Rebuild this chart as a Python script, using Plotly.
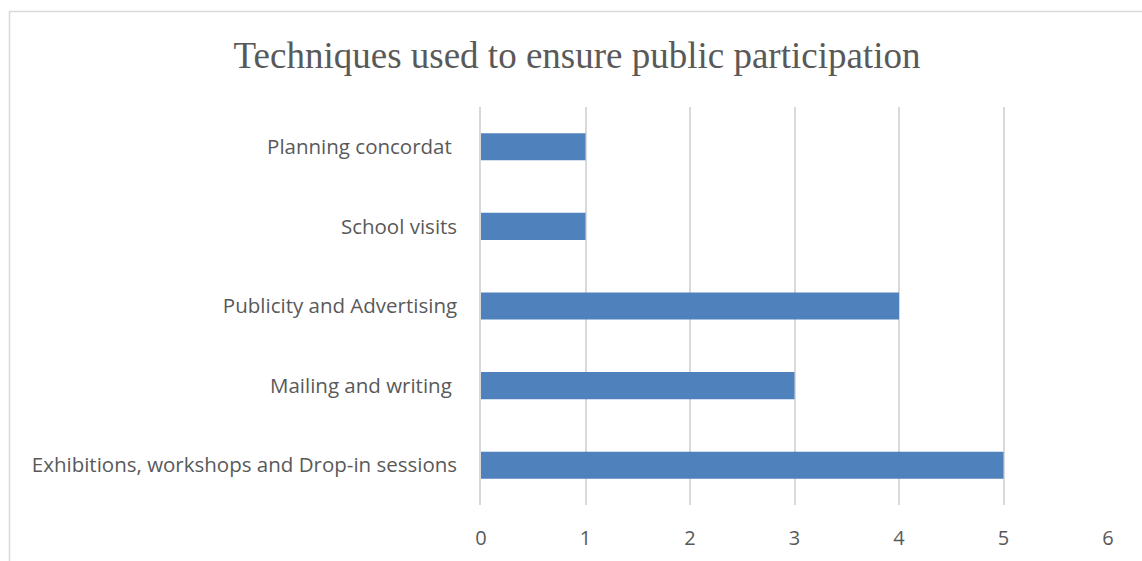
import plotly.graph_objects as go

# Survey responses: number of projects using each participation technique
techniques = [
    "Exhibitions, workshops and Drop-in sessions",
    "Mailing and writing\u00a0",
    "Publicity and Advertising",
    "School visits",
    "Planning concordat\u00a0",
]
counts = [5, 3, 4, 1, 1]
x_ticks = [0, 1, 2, 3, 4, 5, 6]

W, H = 1142, 561
L, R, T, B = 481, 34, 107, 56
pw, ph = W - L - R, H - T - B

def px_to_paper_x(px):
    return (px - L) / pw

def px_to_paper_y(py):
    return 1 - (py - T) / ph

fig = go.Figure(
    go.Bar(
        y=techniques,
        x=counts,
        orientation="h",
        width=0.34,
        marker=dict(color="#4f81bd", line=dict(width=0)),
    )
)

fig.update_layout(
    width=W,
    height=H,
    margin=dict(l=L, r=R, t=T, b=B),
    paper_bgcolor="white",
    plot_bgcolor="white",
    showlegend=False,
    title=dict(
        text="Techniques used to ensure public participation",
        font=dict(family="Liberation Serif", size=37, color="#595959"),
        x=577 / W,
        xref="container",
        xanchor="center",
        y=1 - 55 / H,
        yref="container",
        yanchor="middle",
    ),
    font=dict(family="Open Sans", size=20.5, color="#595959"),
    shapes=[
        dict(
            type="rect",
            xref="paper",
            yref="paper",
            x0=px_to_paper_x(9.5),
            x1=px_to_paper_x(1160),
            y0=px_to_paper_y(580),
            y1=px_to_paper_y(11.5),
            line=dict(color="#d9d9d9", width=1.5),
            fillcolor="rgba(0,0,0,0)",
            layer="below",
        )
    ],
)

fig.update_xaxes(
    range=[0, 6],
    tickvals=x_ticks,
    showgrid=True,
    gridcolor="#d9d9d9",
    gridwidth=1.5,
    zeroline=False,
    showline=False,
    ticks="",
    automargin=False,
    ticklabelstandoff=19,
    tickfont=dict(family="Open Sans", size=20, color="#595959"),
)
fig.update_yaxes(
    categoryorder="array",
    categoryarray=techniques,
    showgrid=False,
    zeroline=False,
    showline=True,
    linecolor="#d9d9d9",
    linewidth=1.5,
    ticks="",
    automargin=False,
    ticklabelstandoff=18,
    tickfont=dict(family="Open Sans", size=20.5, color="#595959"),
)

fig.write_html("out.html")
